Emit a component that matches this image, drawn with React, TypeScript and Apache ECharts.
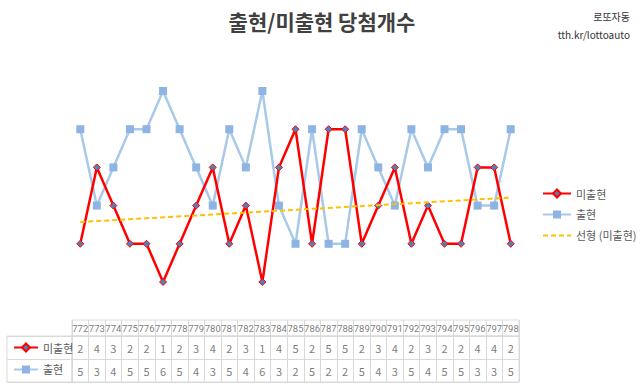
import React, { useEffect, useRef } from "react";
import * as echarts from "echarts";

const CATEGORIES = ["772","773","774","775","776","777","778","779","780","781","782","783","784","785","786","787","788","789","790","791","792","793","794","795","796","797","798"];
const MISSING = [2,4,3,2,2,1,2,3,4,2,3,1,4,5,2,5,5,2,3,4,2,3,2,2,4,4,2];
const APPEARED = [5,3,4,5,5,6,5,4,3,5,4,6,3,2,5,2,2,5,4,3,5,4,5,5,3,3,5];
const TREND_START = 2.57;
const TREND_END = 3.21;
const SERIES_NAMES = ["미출현", "출현", "선형 (미출현)"];
const TITLE = "출현/미출현 당첨개수";
const BRAND = ["로또자동", "tth.kr/lottoauto"];

const FONT = "'Noto Sans CJK KR', 'Noto Sans', sans-serif";
const RED = "#FF0000";
const BLUE_LINE = "#A9C9E8";
const BLUE_MARK = "#8DB4E2";
const GOLD = "#FFC000";
const BORDER = "#D9D9D9";
const TEXT = "#404040";
const TBL_TEXT = "#595959";

export default function App() {
  const ref = useRef<HTMLDivElement>(null);
  useEffect(() => {
    document.body.style.margin = "0";
    const chart = echarts.init(ref.current!, null, { renderer: "svg" });
    const last = CATEGORIES.length - 1;
    const trendData = CATEGORIES.map((_, i) => (i === 0 ? TREND_START : i === last ? TREND_END : null));
    const tblLabel = { show: true, position: "inside", color: TBL_TEXT, fontSize: 11, fontFamily: FONT };
    const hiddenSym = { symbol: "circle", symbolSize: 1, itemStyle: { color: "rgba(0,0,0,0)" } };
    const legendData = [
      { name: SERIES_NAMES[0] },
      { name: SERIES_NAMES[1] },
      { name: SERIES_NAMES[2], itemStyle: { opacity: 0 } },
    ];
    const option: any = {
      animation: false,
      textStyle: { fontFamily: FONT },
      title: [
        { text: TITLE, left: 317, textAlign: "center", top: 5, textStyle: { fontSize: 21, fontWeight: "bold", color: TEXT, fontFamily: FONT } },
      ],
      graphic: [
        { type: "text", right: 10, top: 11, style: { text: BRAND[0], fontSize: 10, fill: "#333", fontFamily: FONT, textAlign: "right" } },
        { type: "text", right: 10, top: 29, style: { text: BRAND[1], fontSize: 10, fill: "#333", fontFamily: FONT, textAlign: "right" } },
      ],
      legend: [
        {
          data: legendData, orient: "vertical", left: 537, top: 183, itemWidth: 28, itemHeight: 10, itemGap: 10,
          textStyle: { fontSize: 11, color: "#595959", fontFamily: FONT }, selectedMode: false,
        },
        {
          data: legendData.slice(0, 2), orient: "vertical", left: 8, top: 337, itemWidth: 24, itemHeight: 10, itemGap: 11,
          textStyle: { fontSize: 11, color: "#595959", fontFamily: FONT }, selectedMode: false,
        },
      ],
      grid: [
        { left: 72, width: 447, top: 91, height: 191 },
        { left: 72, width: 447, top: 320, height: 16, show: true, borderColor: BORDER, borderWidth: 1 },
        { left: 72, width: 447, top: 336, height: 46, show: true, borderColor: BORDER, borderWidth: 1 },
        { left: 7, width: 65, top: 336, height: 46, show: true, borderColor: BORDER, borderWidth: 1 },
      ],
      xAxis: [
        { gridIndex: 0, type: "category", data: CATEGORIES, boundaryGap: true, show: false },
        { gridIndex: 1, type: "category", data: CATEGORIES, boundaryGap: true, axisLine: { show: false }, axisTick: { show: false }, axisLabel: { show: false }, splitLine: { show: true, interval: 0, lineStyle: { color: BORDER } } },
        { gridIndex: 2, type: "category", data: CATEGORIES, boundaryGap: true, axisLine: { show: false }, axisTick: { show: false }, axisLabel: { show: false }, splitLine: { show: true, interval: 0, lineStyle: { color: BORDER } } },
        { gridIndex: 3, type: "category", data: ["k"], show: false },
      ],
      yAxis: [
        { gridIndex: 0, type: "value", min: 1, max: 6, show: false },
        { gridIndex: 1, type: "category", data: ["h"], show: false },
        { gridIndex: 2, type: "category", data: ["출현", "미출현"], axisLine: { show: false }, axisTick: { show: false }, axisLabel: { show: false }, splitLine: { show: true, interval: 0, lineStyle: { color: BORDER } } },
        { gridIndex: 3, type: "category", data: ["출현", "미출현"], axisLine: { show: false }, axisTick: { show: false }, axisLabel: { show: false }, splitLine: { show: true, interval: 0, lineStyle: { color: BORDER } } },
      ],
      series: [
        {
          name: SERIES_NAMES[1], type: "line", xAxisIndex: 0, yAxisIndex: 0, data: APPEARED,
          symbol: "rect", symbolSize: 8, lineStyle: { color: BLUE_LINE, width: 2.5 },
          itemStyle: { color: BLUE_MARK }, z: 2,
        },
        {
          name: SERIES_NAMES[0], type: "line", xAxisIndex: 0, yAxisIndex: 0, data: MISSING,
          symbol: "diamond", symbolSize: 7, lineStyle: { color: RED, width: 2.5 },
          itemStyle: { color: "#4F81BD", borderColor: RED, borderWidth: 1 }, z: 3,
        },
        {
          name: SERIES_NAMES[2], type: "line", xAxisIndex: 0, yAxisIndex: 0, data: trendData, connectNulls: true,
          symbol: "none", lineStyle: { color: GOLD, width: 2, type: [5, 3] }, itemStyle: { color: GOLD }, z: 4,
        },
        {
          name: "hdr", type: "scatter", xAxisIndex: 1, yAxisIndex: 1, ...hiddenSym,
          data: CATEGORIES.map((c) => [c, "h"]),
          label: { ...tblLabel, fontSize: 9.5, fontFamily: "Roboto, sans-serif", formatter: (p: any) => p.value[0] },
        },
        {
          name: "rowMissing", type: "scatter", xAxisIndex: 2, yAxisIndex: 2, ...hiddenSym,
          data: MISSING.map((v, i) => [CATEGORIES[i], "미출현", v]),
          label: { ...tblLabel, formatter: (p: any) => String(p.value[2]) },
        },
        {
          name: "rowAppeared", type: "scatter", xAxisIndex: 2, yAxisIndex: 2, ...hiddenSym,
          data: APPEARED.map((v, i) => [CATEGORIES[i], "출현", v]),
          label: { ...tblLabel, formatter: (p: any) => String(p.value[2]) },
        },
      ],
    };
    chart.setOption(option);
    return () => chart.dispose();
  }, []);
  return <div ref={ref} style={{ position: "absolute", left: 0, top: 0, width: 640, height: 387, background: "#fff" }} />;
}
